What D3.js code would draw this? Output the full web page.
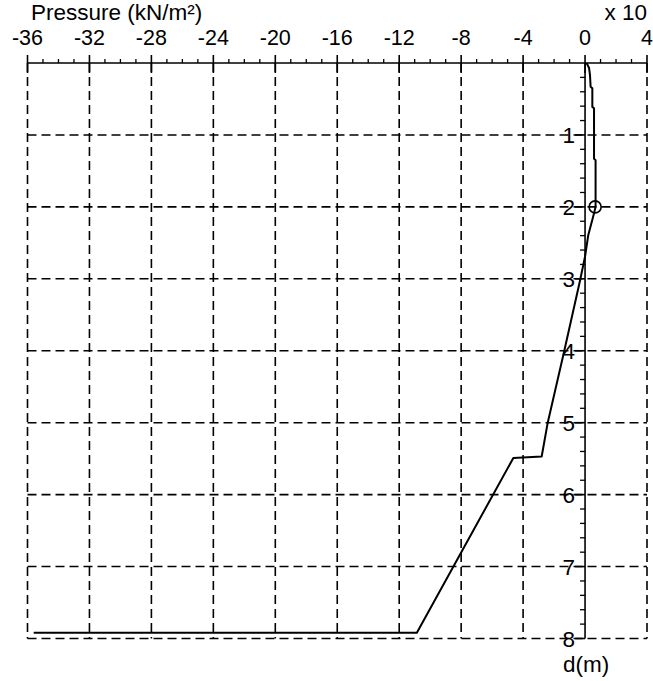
<!DOCTYPE html>
<html>
<head>
<meta charset="utf-8">
<script src="https://cdn.jsdelivr.net/npm/d3@7"></script>
<style>
  html, body { margin: 0; padding: 0; background: #fff; }
  svg { display: block; }
  text { font-family: "Liberation Sans", Arial, sans-serif; fill: #000; }
</style>
</head>
<body>
<script>
// ---- data ----
const pressureTicks = [-36, -32, -28, -24, -20, -16, -12, -8, -4, 0, 4];
const depthTicks = [1, 2, 3, 4, 5, 6, 7, 8];
const xAxisTitle = "Pressure (kN/m²)";
const xMultiplier = "x 10";
const yAxisTitle = "d(m)";
// pressure profile (x10 kN/m²) vs depth (m)
const depth =    [0, 0.07, 0.17, 0.33, 0.35, 0.61, 0.63, 1.33, 1.35, 2.0, 2.09, 2.39, 2.69, 3.02, 4.0, 5.0, 5.47, 5.49, 7.92, 7.92];
const pressure = [0.1, 0.26, 0.32, 0.36, 0.47, 0.47, 0.58, 0.58, 0.68, 0.68, 0.58, 0.21, 0.0, -0.32, -1.34, -2.41, -2.8, -4.63, -10.86, -35.6];
const markerDepth = [2.0];
const markerPressure = [0.65];

// ---- layout ----
const W = 653, H = 681;
const FS = 22.5, FT = 21.5;
const svg = d3.select("body").append("svg").attr("width", W).attr("height", H);
svg.append("rect").attr("width", W).attr("height", H).attr("fill", "#fff");

const x = d3.scaleLinear().domain([-36, 4]).range([27.5, 647]);
const y = d3.scaleLinear().domain([0, 8]).range([63, 638.5]);

const dash = "9,5";
const g = svg.append("g");

// grid - vertical
g.selectAll("line.vgrid").data(pressureTicks.filter(d => d !== 0)).join("line")
  .attr("class", "vgrid")
  .attr("x1", d => x(d)).attr("x2", d => x(d))
  .attr("y1", y(0)).attr("y2", y(8))
  .attr("stroke", "#000").attr("stroke-width", 1.6)
  .attr("stroke-dasharray", dash);

// grid - horizontal
g.selectAll("line.hgrid").data(depthTicks).join("line")
  .attr("class", "hgrid")
  .attr("x1", x(-36)).attr("x2", x(4))
  .attr("y1", d => y(d)).attr("y2", d => y(d))
  .attr("stroke", "#000").attr("stroke-width", 1.6)
  .attr("stroke-dasharray", dash);

// top axis
const minorX = d3.range(-36, 5, 1).filter(v => v % 4 !== 0);
g.append("line").attr("x1", x(-36)).attr("x2", x(4)).attr("y1", y(0)).attr("y2", y(0))
  .attr("stroke", "#000").attr("stroke-width", 1.6);
g.selectAll("line.xminor").data(minorX).join("line")
  .attr("x1", d => x(d)).attr("x2", d => x(d)).attr("y1", y(0) - 4).attr("y2", y(0))
  .attr("stroke", "#000").attr("stroke-width", 1.3);
g.selectAll("line.xmajor").data(pressureTicks).join("line")
  .attr("x1", d => x(d)).attr("x2", d => x(d)).attr("y1", y(0) - 8).attr("y2", y(0) + 10)
  .attr("stroke", "#000").attr("stroke-width", 1.6);
g.selectAll("text.xlab").data(pressureTicks).join("text")
  .attr("x", d => x(d)).attr("y", 44.5)
  .attr("text-anchor", "middle").attr("font-size", FT)
  .text(d => String(d));

svg.append("text").attr("x", 31).attr("y", 20).attr("font-size", FS).text(xAxisTitle);
svg.append("text").attr("x", 647).attr("y", 20).attr("text-anchor", "end").attr("font-size", FS).text(xMultiplier);

// vertical axis at pressure 0
const minorY = d3.range(0.2, 8, 0.2).filter(v => Math.abs(v - Math.round(v)) > 1e-6);
g.append("line").attr("x1", x(0)).attr("x2", x(0)).attr("y1", y(0)).attr("y2", y(8))
  .attr("stroke", "#000").attr("stroke-width", 1.6);
g.selectAll("line.yminor").data(minorY).join("line")
  .attr("x1", x(0) - 5).attr("x2", x(0)).attr("y1", d => y(d)).attr("y2", d => y(d))
  .attr("stroke", "#000").attr("stroke-width", 1.3);
g.selectAll("line.ymajor").data(depthTicks).join("line")
  .attr("x1", x(0) - 10).attr("x2", x(0)).attr("y1", d => y(d)).attr("y2", d => y(d))
  .attr("stroke", "#000").attr("stroke-width", 1.6);
g.selectAll("text.ylab").data(depthTicks).join("text")
  .attr("x", x(0) - 10).attr("y", d => y(d) + 8)
  .attr("text-anchor", "end").attr("font-size", FS)
  .text(d => d);
svg.append("text").attr("x", x(0) + 1).attr("y", 672).attr("text-anchor", "middle").attr("font-size", FS).text(yAxisTitle);

// curve
const pts = depth.map((d, i) => [pressure[i], d]);
const line = d3.line().x(p => x(p[0])).y(p => y(p[1]));
g.append("path").attr("d", line(pts)).attr("fill", "none")
  .attr("stroke", "#000").attr("stroke-width", 2).attr("stroke-linejoin", "round");

// marker
g.selectAll("circle.mk").data(markerDepth).join("circle")
  .attr("cx", (d, i) => x(markerPressure[i])).attr("cy", d => y(d)).attr("r", 6)
  .attr("fill", "none").attr("stroke", "#000").attr("stroke-width", 1.6);
</script>
</body>
</html>
